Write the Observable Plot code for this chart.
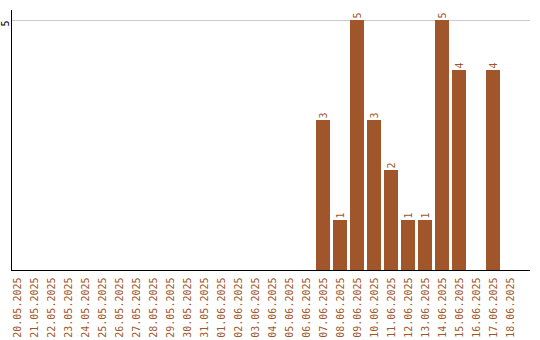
<!DOCTYPE html>
<html>
<head>
<meta charset="utf-8">
<script src="https://cdn.jsdelivr.net/npm/d3@7"></script>
<script src="https://cdn.jsdelivr.net/npm/@observablehq/plot@0.6"></script>
<style>
  html, body { margin: 0; padding: 0; background: #fff; }
</style>
</head>
<body>
<div id="chart"></div>
<script>
const dates = [
  "20.05.2025","21.05.2025","22.05.2025","23.05.2025","24.05.2025","25.05.2025",
  "26.05.2025","27.05.2025","28.05.2025","29.05.2025","30.05.2025","31.05.2025",
  "01.06.2025","02.06.2025","03.06.2025","04.06.2025","05.06.2025","06.06.2025",
  "07.06.2025","08.06.2025","09.06.2025","10.06.2025","11.06.2025","12.06.2025",
  "13.06.2025","14.06.2025","15.06.2025","16.06.2025","17.06.2025","18.06.2025"
];
const counts = [
  0,0,0,0,0,0,
  0,0,0,0,0,0,
  0,0,0,0,0,0,
  3,1,5,3,2,1,
  1,5,4,0,4,0
];
const yTicks = [5];

const data = dates.map((d, i) => ({date: d, value: counts[i]}));
const color = "#a0562a";

const chart = Plot.plot({
  width: 540,
  height: 340,
  marginTop: 10,
  marginBottom: 70,
  marginLeft: 11,
  marginRight: 10,
  style: {fontFamily: "'DejaVu Sans Mono', monospace", fontSize: "10px", background: "#fff"},
  x: {domain: dates, range: [10, 517], paddingInner: 3/17, paddingOuter: 0, align: 0, axis: null},
  y: {domain: [0, 5.2], axis: null},
  marks: [
    Plot.ruleY(yTicks, {stroke: "#cccccc"}),
    Plot.barY(data, {x: "date", y: "value", fill: color}),
    Plot.ruleY([0], {stroke: "#000"}),
    Plot.frame({anchor: "left", stroke: "#000"}),
    Plot.axisX({tickSize: 0, tickRotate: -90, tickPadding: 7, color: color, label: null}),
    Plot.text(yTicks, {y: d => d, frameAnchor: "left", dx: -6, rotate: -90, textAnchor: "end", fill: "#000", text: d => String(d)}),
    Plot.text(data.filter(d => d.value > 0), {x: "date", y: "value", text: d => String(d.value), rotate: -90, textAnchor: "start", dy: -2, fill: color})
  ]
});
document.getElementById("chart").appendChild(chart);
</script>
</body>
</html>
